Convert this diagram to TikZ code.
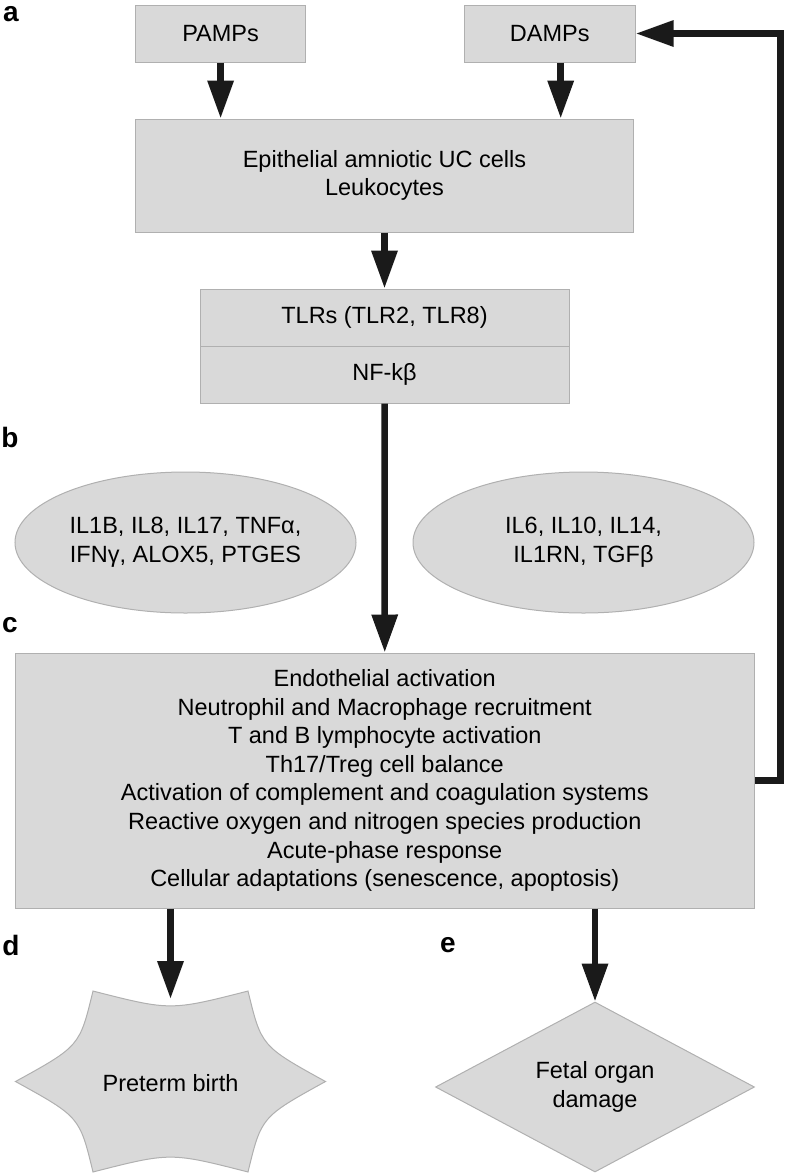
\documentclass[tikz,border=0pt]{standalone}
\usepackage{fontspec}
\setmainfont{Liberation Sans}
\usetikzlibrary{arrows.meta,shapes.geometric}
\definecolor{boxfill}{HTML}{D9D9D9}
\definecolor{boxline}{HTML}{B0B0B0}
\definecolor{arr}{HTML}{1A1A1A}
\begin{document}
\begin{tikzpicture}[x=1pt,y=-1pt,
  every node/.style={font=\fontsize{23.5}{28.6}\selectfont, align=center, inner sep=0pt},
  gbox/.style={draw=boxline, fill=boxfill, line width=1pt, rectangle},
  ell/.style={ellipse, draw=boxline, fill=boxfill, line width=1pt, minimum width=341pt, minimum height=141pt},
  flow/.style={draw=arr, line width=6.5pt, -{Triangle[length=38pt,width=25pt]}},
  lab/.style={font=\fontsize{28}{28}\selectfont\bfseries, anchor=center}]
\useasboundingbox (0,0) rectangle (786,1176);

% panel a
\node[gbox, minimum width=170pt, minimum height=57pt] (pamps) at (220.6,33.5) {PAMPs};
\node[gbox, minimum width=171pt, minimum height=57pt] (damps) at (549.7,33.5) {DAMPs};
\node[gbox, minimum width=498pt, minimum height=113pt] (epi) at (384.5,175.5) {Epithelial amniotic UC cells\\Leukocytes};
\node[gbox, minimum width=369pt, minimum height=57pt] (tlr) at (384.5,317.5) {TLRs (TLR2, TLR8)};
\node[gbox, minimum width=369pt, minimum height=57pt] (nfkb) at (384.5,374.5) {NF-kβ};

% panel b
\node[ell] (pro) at (185.5,542.5) {IL1B, IL8, IL17, TNFα,\\IFNγ, ALOX5, PTGES};
\node[ell] (anti) at (583.5,542.5) {IL6, IL10, IL14,\\IL1RN, TGFβ};

% panel c
\node[gbox, minimum width=739.5pt, minimum height=255pt] (big) at (384.75,780.5) {Endothelial activation\\Neutrophil and Macrophage recruitment\\T and B lymphocyte activation\\Th17/Treg cell balance\\Activation of complement and coagulation systems\\Reactive oxygen and nitrogen species production\\Acute-phase response\\Cellular adaptations (senescence, apoptosis)};

% panel d: concave star
\begin{scope}[shift={(170.5,1081.5)}, yscale=0.674]
\draw[draw=boxline, fill=boxfill, line width=1pt]
  (0:155) .. controls (30:104.9) .. (60:155)
  .. controls (90:104.9) .. (120:155)
  .. controls (150:104.9) .. (180:155)
  .. controls (210:104.9) .. (240:155)
  .. controls (270:104.9) .. (300:155)
  .. controls (330:104.9) .. (360:155) -- cycle;
\end{scope}
\node (preterm) at (170.5,1083) {Preterm birth};
\coordinate (ptop) at (170.5,999);

% panel e
\node[diamond, draw=boxline, fill=boxfill, line width=1pt, aspect=1.88, minimum width=319pt, minimum height=170pt] (fetal) at (595,1087) {Fetal organ\\damage};

% arrows
\draw[flow] (pamps.south) -- (pamps.south |- epi.north);
\draw[flow] ([xshift=11pt]damps.south) -- ([xshift=11pt]damps.south |- epi.north);
\draw[flow] (epi.south) -- (tlr.north);
\draw[flow] (nfkb.south) -- (big.north);
\draw[flow] (big.south -| ptop) -- (ptop);
\draw[flow] (big.south -| fetal.north) -- (fetal.north);
\draw[flow, line join=miter] (big.east) -- ++(25.5,0) |- (damps.east);

% labels
\node[lab] (la) at (11,14) {a};
\node[lab] (lb) at (10,437) {b};
\node[lab] (lc) at (10,625) {c};
\node[lab] (ld) at (11,945) {d};
\node[lab] (le) at (448,945) {e};
\end{tikzpicture}
\end{document}
